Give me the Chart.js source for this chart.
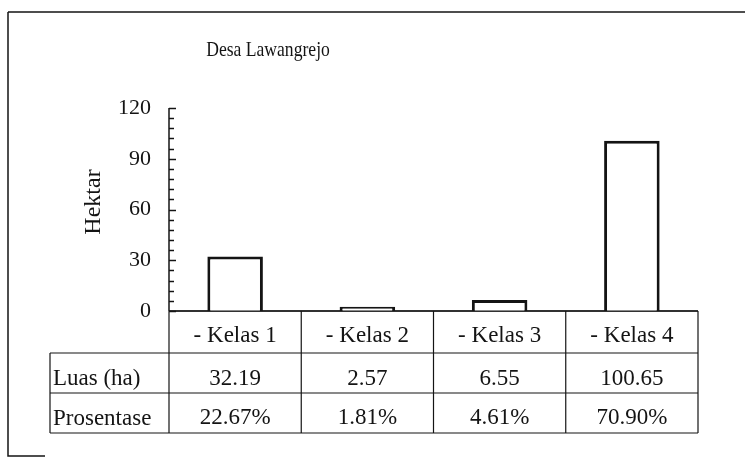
<!DOCTYPE html>
<html>
<head>
<meta charset="utf-8">
<script src="https://cdn.jsdelivr.net/npm/chart.js@4"></script>
<style>
  html, body { margin: 0; padding: 0; background: #fff; }
  canvas { display: block; }
</style>
</head>
<body>
<canvas id="chart" width="745" height="458"></canvas>
<script>
// data
const judul = 'Desa Lawangrejo';
const satuan = 'Hektar';
const kelas = ['- Kelas 1', '- Kelas 2', '- Kelas 3', '- Kelas 4'];
const luas = [32.19, 2.57, 6.55, 100.65];
const prosentase = ['22.67%', '1.81%', '4.61%', '70.90%'];
const barisTabel = ['Luas (ha)', 'Prosentase'];
const yTicks = [0, 30, 60, 90, 120];
const yMinorStep = 6;

const FONT = '"Liberation Serif", "Times New Roman", serif';
const INK = '#141414';

// gambar sumbu, judul dan tabel di bawah grafik
const tabelPlugin = {
  id: 'tabel',
  beforeDatasetsDraw(chart) {
    const ctx = chart.ctx;
    const area = chart.chartArea;
    const y = chart.scales.y;
    ctx.save();
    ctx.strokeStyle = INK;
    ctx.fillStyle = INK;

    // sumbu y dengan tick kecil ke dalam
    ctx.lineWidth = 1.5;
    ctx.beginPath();
    ctx.moveTo(area.left, area.top);
    ctx.lineTo(area.left, area.bottom);
    ctx.stroke();
    for (let v = y.min; v <= y.max; v += yMinorStep) {
      const py = Math.round(y.getPixelForValue(v)) + 0.5;
      const major = yTicks.includes(v);
      ctx.beginPath();
      ctx.moveTo(area.left, py);
      ctx.lineTo(area.left + (major ? 7 : 5), py);
      ctx.stroke();
    }

    // label tick
    ctx.font = '22px ' + FONT;
    ctx.textAlign = 'right';
    ctx.textBaseline = 'middle';
    yTicks.forEach((v) => {
      ctx.fillText(String(v), area.left - 18, y.getPixelForValue(v));
    });

    // sumbu x
    ctx.lineWidth = 1.5;
    ctx.beginPath();
    ctx.moveTo(area.left, area.bottom);
    ctx.lineTo(area.right, area.bottom);
    ctx.stroke();
    ctx.restore();
  },
  afterDraw(chart) {
    const ctx = chart.ctx;
    const area = chart.chartArea;
    const x = chart.scales.x;
    ctx.save();
    ctx.strokeStyle = INK;
    ctx.fillStyle = INK;

    // bingkai luar (hasil scan)
    ctx.lineWidth = 1.5;
    ctx.beginPath();
    ctx.moveTo(8, 12);
    ctx.lineTo(745, 12);
    ctx.moveTo(8, 12);
    ctx.lineTo(8, 456);
    ctx.lineTo(45, 456);
    ctx.stroke();

    // judul
    ctx.save();
    ctx.font = '22px ' + FONT;
    ctx.textAlign = 'center';
    ctx.textBaseline = 'alphabetic';
    ctx.translate(268, 56);
    ctx.scale(0.8, 1);
    ctx.fillText(judul, 0, 0);
    ctx.restore();

    // judul sumbu y
    ctx.save();
    ctx.font = '24px ' + FONT;
    ctx.textAlign = 'center';
    ctx.textBaseline = 'middle';
    ctx.translate(94, 202);
    ctx.rotate(-Math.PI / 2);
    ctx.fillText(satuan, 0, 0);
    ctx.restore();

    // tabel data
    const lebar = (area.right - area.left) / kelas.length;
    const tabelKiri = 50;
    const rows = [area.bottom, area.bottom + 42, area.bottom + 82, area.bottom + 122];
    ctx.lineWidth = 1.2;
    ctx.beginPath();
    // garis horizontal
    ctx.moveTo(area.left, rows[0]);
    ctx.lineTo(area.right, rows[0]);
    for (let r = 1; r < rows.length; r++) {
      ctx.moveTo(tabelKiri, rows[r]);
      ctx.lineTo(area.right, rows[r]);
    }
    // garis vertikal
    ctx.moveTo(tabelKiri, rows[1]);
    ctx.lineTo(tabelKiri, rows[3]);
    for (let i = 0; i <= kelas.length; i++) {
      const px = (i < kelas.length ? x.getPixelForValue(i) - lebar / 2 : x.getPixelForValue(i - 1) + lebar / 2);
      ctx.moveTo(px, rows[0]);
      ctx.lineTo(px, rows[3]);
    }
    ctx.stroke();

    ctx.font = '23px ' + FONT;
    ctx.textBaseline = 'alphabetic';
    ctx.textAlign = 'left';
    barisTabel.forEach((lbl, r) => {
      ctx.fillText(lbl, tabelKiri + 3, rows[r + 2] - 8);
    });
    ctx.textAlign = 'center';
    kelas.forEach((k, i) => {
      const cx = x.getPixelForValue(i);
      ctx.fillText(k, cx, rows[1] - 11);
      ctx.fillText(luas[i].toFixed(2), cx, rows[2] - 8);
      ctx.fillText(prosentase[i], cx, rows[3] - 9);
    });
    ctx.restore();
  },
};

new Chart('chart', {
  type: 'bar',
  data: {
    labels: kelas,
    datasets: [
      {
        label: 'Luas (ha)',
        data: luas,
        backgroundColor: '#ffffff',
        borderColor: INK,
        borderWidth: 3,
        barPercentage: 0.42,
        categoryPercentage: 1,
      },
    ],
  },
  options: {
    responsive: false,
    animation: false,
    devicePixelRatio: 1,
    layout: { padding: { left: 169, top: 108, right: 47, bottom: 147 } },
    plugins: {
      legend: { display: false },
      title: { display: false },
      tooltip: { enabled: false },
    },
    scales: {
      x: { display: false },
      y: { display: false, min: 0, max: 120 },
    },
  },
  plugins: [tabelPlugin],
});
</script>
</body>
</html>
